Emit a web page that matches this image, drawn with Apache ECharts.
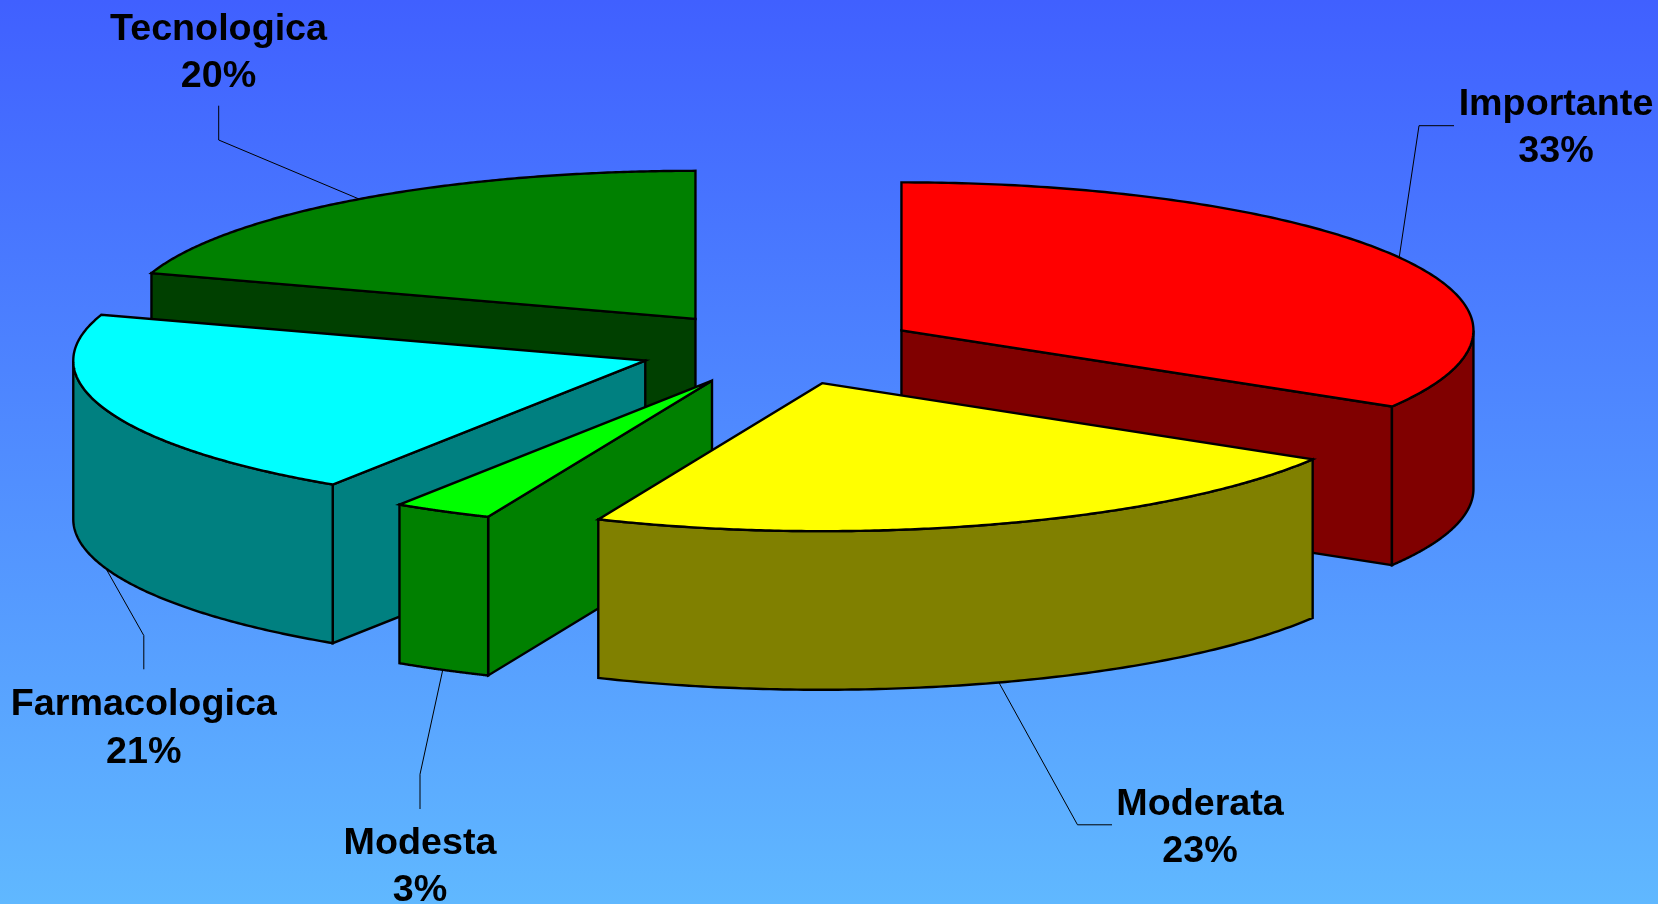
<!DOCTYPE html>
<html>
<head>
<meta charset="utf-8">
<style>html,body{margin:0;padding:0;width:100%;height:100%;overflow:hidden}#c{width:1658px;height:904px}</style>
<script src="https://cdn.jsdelivr.net/npm/echarts@6/dist/echarts.min.js"></script>
</head>
<body>
<div id="c"></div>
<script>
// --- data ---
const categories = ['Importante', 'Moderata', 'Modesta', 'Farmacologica', 'Tecnologica'];
const percentLabels = ['33%', '23%', '3%', '21%', '20%'];
const shares = [33.6, 22.8, 2.8, 20.8, 20.0];

// --- styles ---
const topColors = ['#ff0000', '#ffff00', '#00ff00', '#00ffff', '#008000'];
const wallColors = ['#800000', '#808000', '#008000', '#008080', '#004000'];
const paintOrder = [4, 0, 3, 2, 1];

// --- layout (pixels) ---
const W = 1658, H = 904;
const CX = 778.5, CY = 348.4, RX = 572, RY = 148, DEPTH = 158.6, EXPLODE = 0.247;
const labelX = [1556, 1200, 420, 143.8, 218.5];
const labelBaseline = [118, 818, 857, 718.6, 43];
const elbows = [[1419, 125.7], [1077.5, 824.8], [420, 774.3], [143.8, 635.5], [218.7, 140]];
const leaderEnds = [[1454, 125.7], [1112, 824.8], [420, 809], [143.8, 669.3], [218.7, 105.7]];
const FONT = 'bold 37.7px "Liberation Sans", Arial, sans-serif';
const LINE_GAP = 47.5;

const total = shares.reduce((a, b) => a + b, 0);
let acc = 0;
const seriesData = shares.map((v, i) => {
  const a0 = acc / total * 360; acc += v; const a1 = acc / total * 360;
  return { name: categories[i], value: [a0, a1, v, i] };
});

const dep = DEPTH / RY;
function pt(tDeg, ox, oy, r, drop) {
  const t = tDeg * Math.PI / 180;
  return [ox + r * Math.sin(t), oy - r * Math.cos(t) + drop];
}
function renderItem(params, api) {
  const a0 = api.value(0), a1 = api.value(1), idx = api.value(3);
  const mid = (a0 + a1) / 2;
  const off = pt(mid, 0, 0, EXPLODE, 0);
  const ox = off[0], oy = off[1];
  const base = (paintOrder.indexOf(idx) + 1) * 10;
  const line = { stroke: '#000', lineWidth: 2.4, lineJoin: 'miter' };
  const children = [];
  const poly = (pts, fill, z) => children.push({
    type: 'polygon', z2: base + z,
    shape: { points: pts.map(p => api.coord(p)) },
    style: Object.assign({ fill: fill }, line)
  });
  // radial walls turned to the viewer
  const apexT = [ox, oy], apexB = [ox, oy + dep];
  if (a0 > 180 && a0 < 360) {
    poly([apexT, pt(a0, ox, oy, 1, 0), pt(a0, ox, oy, 1, dep), apexB], wallColors[idx], 0);
  }
  if (a1 > 0 && a1 < 180) {
    poly([apexT, pt(a1, ox, oy, 1, 0), pt(a1, ox, oy, 1, dep), apexB], wallColors[idx], 0);
  }
  // outer wall: the part on the near half of the ellipse
  const w0 = Math.max(a0, 90), w1 = Math.min(a1, 270);
  if (w1 > w0) {
    const up = [], low = [];
    for (let k = 0; k <= 120; k++) {
      const t = w0 + (w1 - w0) * k / 120;
      up.push(pt(t, ox, oy, 1, 0));
      low.unshift(pt(t, ox, oy, 1, dep));
    }
    poly(up.concat(low), wallColors[idx], 1);
  }
  // top face
  const face = [apexT];
  for (let k = 0; k <= 180; k++) face.push(pt(a0 + (a1 - a0) * k / 180, ox, oy, 1, 0));
  poly(face, topColors[idx], 2);
  // leader line
  const near = mid > 90 && mid < 270;
  const anchor = api.coord(pt(mid, ox, oy, 1, near ? dep : 0));
  children.push({
    type: 'polyline', z2: near ? 100 : 3,
    shape: { points: [anchor, elbows[idx], leaderEnds[idx]] },
    style: { fill: null, stroke: '#000', lineWidth: 1 }
  });
  // label
  [categories[idx], percentLabels[idx]].forEach((s, n) => {
    children.push({
      type: 'text', z2: 200,
      style: {
        text: s, x: labelX[idx], y: labelBaseline[idx] - 13.5 + n * LINE_GAP,
        font: FONT, fill: '#000', align: 'center', verticalAlign: 'middle'
      }
    });
  });
  return { type: 'group', children: children };
}

const chart = echarts.init(document.getElementById('c'), null, { renderer: 'canvas', width: W, height: H });
chart.setOption({
  animation: false,
  backgroundColor: {
    type: 'linear', x: 0, y: 0, x2: 0, y2: 1,
    colorStops: [{ offset: 0, color: '#4060ff' }, { offset: 1, color: '#60b8ff' }]
  },
  grid: { left: 0, right: 0, top: 0, bottom: 0 },
  xAxis: { type: 'value', show: false, min: -CX / RX, max: (W - CX) / RX },
  yAxis: { type: 'value', show: false, inverse: true, min: -CY / RY, max: (H - CY) / RY },
  series: [{
    type: 'custom', coordinateSystem: 'cartesian2d', clip: false, silent: true,
    renderItem: renderItem,
    encode: { x: 0, y: 1 },
    data: paintOrder.map(i => seriesData[i])
  }]
});
</script>
</body>
</html>
